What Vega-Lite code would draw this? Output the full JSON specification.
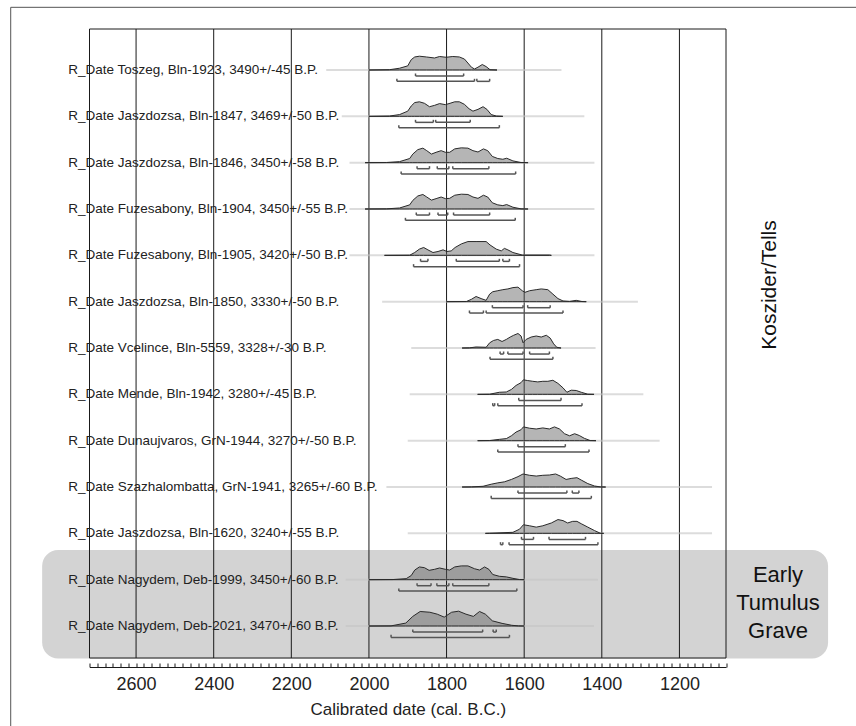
{
  "$schema": "https://vega.github.io/schema/vega-lite/v6.json",
  "width": 636.5,
  "height": 629,
  "autosize": {"type": "none"},
  "padding": {"left": 89.5, "top": 29, "right": 130, "bottom": 68},
  "background": "white",
  "config": {"view": {"stroke": null}, "font": "Liberation Sans"},
  "params": [],
  "datasets": {
    "rows": [
      {"i": 1, "label": "R_Date Toszeg, Bln-1923, 3490+/-45 B.P.", "f1": 2110, "f2": 1504},
      {"i": 2, "label": "R_Date Jaszdozsa, Bln-1847, 3469+/-50 B.P.", "f1": 2070, "f2": 1445},
      {"i": 3, "label": "R_Date Jaszdozsa, Bln-1846, 3450+/-58 B.P.", "f1": 2050, "f2": 1419},
      {"i": 4, "label": "R_Date Fuzesabony, Bln-1904, 3450+/-55 B.P.", "f1": 2050, "f2": 1419},
      {"i": 5, "label": "R_Date Fuzesabony, Bln-1905, 3420+/-50 B.P.", "f1": 2050, "f2": 1419},
      {"i": 6, "label": "R_Date Jaszdozsa, Bln-1850, 3330+/-50 B.P.", "f1": 1966, "f2": 1307},
      {"i": 7, "label": "R_Date Vcelince, Bln-5559, 3328+/-30 B.P.", "f1": 1891, "f2": 1416},
      {"i": 8, "label": "R_Date Mende, Bln-1942, 3280+/-45 B.P.", "f1": 1895, "f2": 1293},
      {"i": 9, "label": "R_Date Dunaujvaros, GrN-1944, 3270+/-50 B.P.", "f1": 1900, "f2": 1251},
      {"i": 10, "label": "R_Date Szazhalombatta, GrN-1941, 3265+/-60 B.P.", "f1": 1955, "f2": 1116},
      {"i": 11, "label": "R_Date Jaszdozsa, Bln-1620, 3240+/-55 B.P.", "f1": 1900, "f2": 1116},
      {"i": 12, "label": "R_Date Nagydem, Deb-1999, 3450+/-60 B.P.", "f1": 2060, "f2": 1410},
      {"i": 13, "label": "R_Date Nagydem, Deb-2021, 3470+/-60 B.P.", "f1": 2060, "f2": 1420}
    ],
    "dist": [
      {"i":1,"d":2000,"p":0},{"i":1,"d":1947,"p":0.02},{"i":1,"d":1921,"p":0.12},{"i":1,"d":1900,"p":0.28},{"i":1,"d":1891,"p":0.7},{"i":1,"d":1882,"p":0.88},{"i":1,"d":1870,"p":0.93},{"i":1,"d":1852,"p":0.88},{"i":1,"d":1831,"p":0.81},{"i":1,"d":1818,"p":0.91},{"i":1,"d":1801,"p":0.86},{"i":1,"d":1784,"p":0.91},{"i":1,"d":1767,"p":0.88},{"i":1,"d":1754,"p":0.74},{"i":1,"d":1745,"p":0.47},{"i":1,"d":1736,"p":0.19},{"i":1,"d":1728,"p":0.07},{"i":1,"d":1719,"p":0.19},{"i":1,"d":1708,"p":0.37},{"i":1,"d":1698,"p":0.23},{"i":1,"d":1688,"p":0.02},{"i":1,"d":1670,"p":0},
      {"i":2,"d":2000,"p":0},{"i":2,"d":1947,"p":0.02},{"i":2,"d":1921,"p":0.12},{"i":2,"d":1900,"p":0.35},{"i":2,"d":1891,"p":0.7},{"i":2,"d":1882,"p":0.93},{"i":2,"d":1870,"p":0.98},{"i":2,"d":1857,"p":0.88},{"i":2,"d":1844,"p":0.65},{"i":2,"d":1831,"p":0.74},{"i":2,"d":1818,"p":0.86},{"i":2,"d":1803,"p":0.79},{"i":2,"d":1791,"p":0.88},{"i":2,"d":1779,"p":0.98},{"i":2,"d":1767,"p":0.98},{"i":2,"d":1754,"p":0.81},{"i":2,"d":1742,"p":0.51},{"i":2,"d":1732,"p":0.35},{"i":2,"d":1719,"p":0.47},{"i":2,"d":1706,"p":0.65},{"i":2,"d":1696,"p":0.47},{"i":2,"d":1685,"p":0.12},{"i":2,"d":1672,"p":0.02},{"i":2,"d":1655,"p":0},
      {"i":3,"d":2010,"p":0},{"i":3,"d":1955,"p":0.01},{"i":3,"d":1921,"p":0.07},{"i":3,"d":1895,"p":0.28},{"i":3,"d":1887,"p":0.58},{"i":3,"d":1874,"p":0.88},{"i":3,"d":1861,"p":0.98},{"i":3,"d":1851,"p":0.81},{"i":3,"d":1839,"p":0.58},{"i":3,"d":1827,"p":0.7},{"i":3,"d":1814,"p":0.81},{"i":3,"d":1803,"p":0.7},{"i":3,"d":1792,"p":0.7},{"i":3,"d":1779,"p":0.93},{"i":3,"d":1762,"p":1.0},{"i":3,"d":1745,"p":0.98},{"i":3,"d":1732,"p":0.81},{"i":3,"d":1719,"p":0.72},{"i":3,"d":1705,"p":0.93},{"i":3,"d":1694,"p":0.81},{"i":3,"d":1682,"p":0.42},{"i":3,"d":1668,"p":0.28},{"i":3,"d":1655,"p":0.23},{"i":3,"d":1645,"p":0.3},{"i":3,"d":1629,"p":0.12},{"i":3,"d":1608,"p":0.01},{"i":3,"d":1590,"p":0},
      {"i":4,"d":2010,"p":0},{"i":4,"d":1955,"p":0.01},{"i":4,"d":1921,"p":0.07},{"i":4,"d":1895,"p":0.28},{"i":4,"d":1887,"p":0.58},{"i":4,"d":1874,"p":0.88},{"i":4,"d":1861,"p":0.98},{"i":4,"d":1851,"p":0.81},{"i":4,"d":1839,"p":0.6},{"i":4,"d":1827,"p":0.7},{"i":4,"d":1814,"p":0.81},{"i":4,"d":1803,"p":0.7},{"i":4,"d":1792,"p":0.72},{"i":4,"d":1779,"p":0.93},{"i":4,"d":1762,"p":1.0},{"i":4,"d":1745,"p":0.98},{"i":4,"d":1732,"p":0.81},{"i":4,"d":1719,"p":0.72},{"i":4,"d":1705,"p":0.93},{"i":4,"d":1694,"p":0.81},{"i":4,"d":1682,"p":0.42},{"i":4,"d":1668,"p":0.28},{"i":4,"d":1655,"p":0.23},{"i":4,"d":1645,"p":0.3},{"i":4,"d":1629,"p":0.12},{"i":4,"d":1608,"p":0.01},{"i":4,"d":1590,"p":0},
      {"i":5,"d":1960,"p":0},{"i":5,"d":1895,"p":0.01},{"i":5,"d":1882,"p":0.19},{"i":5,"d":1870,"p":0.42},{"i":5,"d":1859,"p":0.53},{"i":5,"d":1848,"p":0.37},{"i":5,"d":1835,"p":0.19},{"i":5,"d":1822,"p":0.26},{"i":5,"d":1809,"p":0.37},{"i":5,"d":1799,"p":0.26},{"i":5,"d":1788,"p":0.3},{"i":5,"d":1778,"p":0.53},{"i":5,"d":1762,"p":0.77},{"i":5,"d":1745,"p":0.93},{"i":5,"d":1724,"p":0.93},{"i":5,"d":1698,"p":0.93},{"i":5,"d":1688,"p":0.7},{"i":5,"d":1672,"p":0.42},{"i":5,"d":1659,"p":0.3},{"i":5,"d":1651,"p":0.47},{"i":5,"d":1642,"p":0.37},{"i":5,"d":1629,"p":0.19},{"i":5,"d":1605,"p":0.02},{"i":5,"d":1535,"p":0.02},{"i":5,"d":1530,"p":0},
      {"i":6,"d":1800,"p":0},{"i":6,"d":1749,"p":0.01},{"i":6,"d":1736,"p":0.16},{"i":6,"d":1724,"p":0.35},{"i":6,"d":1711,"p":0.21},{"i":6,"d":1698,"p":0.09},{"i":6,"d":1689,"p":0.51},{"i":6,"d":1681,"p":0.67},{"i":6,"d":1668,"p":0.74},{"i":6,"d":1655,"p":0.81},{"i":6,"d":1642,"p":0.86},{"i":6,"d":1629,"p":0.95},{"i":6,"d":1616,"p":0.98},{"i":6,"d":1605,"p":0.74},{"i":6,"d":1598,"p":0.63},{"i":6,"d":1586,"p":0.74},{"i":6,"d":1569,"p":0.81},{"i":6,"d":1556,"p":0.86},{"i":6,"d":1539,"p":0.81},{"i":6,"d":1526,"p":0.51},{"i":6,"d":1513,"p":0.21},{"i":6,"d":1500,"p":0.05},{"i":6,"d":1483,"p":0.02},{"i":6,"d":1466,"p":0.09},{"i":6,"d":1451,"p":0.01},{"i":6,"d":1440,"p":0},
      {"i":7,"d":1760,"p":0},{"i":7,"d":1741,"p":0.01},{"i":7,"d":1724,"p":0.07},{"i":7,"d":1698,"p":0.05},{"i":7,"d":1689,"p":0.35},{"i":7,"d":1679,"p":0.51},{"i":7,"d":1668,"p":0.58},{"i":7,"d":1657,"p":0.44},{"i":7,"d":1646,"p":0.58},{"i":7,"d":1636,"p":0.74},{"i":7,"d":1627,"p":0.86},{"i":7,"d":1616,"p":0.98},{"i":7,"d":1608,"p":0.81},{"i":7,"d":1603,"p":0.35},{"i":7,"d":1595,"p":0.58},{"i":7,"d":1582,"p":0.74},{"i":7,"d":1569,"p":0.81},{"i":7,"d":1556,"p":0.74},{"i":7,"d":1543,"p":0.86},{"i":7,"d":1533,"p":0.67},{"i":7,"d":1524,"p":0.28},{"i":7,"d":1516,"p":0.05},{"i":7,"d":1505,"p":0},
      {"i":8,"d":1720,"p":0},{"i":8,"d":1689,"p":0.01},{"i":8,"d":1664,"p":0.14},{"i":8,"d":1646,"p":0.16},{"i":8,"d":1633,"p":0.33},{"i":8,"d":1621,"p":0.6},{"i":8,"d":1608,"p":0.79},{"i":8,"d":1602,"p":0.98},{"i":8,"d":1591,"p":0.93},{"i":8,"d":1578,"p":0.88},{"i":8,"d":1565,"p":0.84},{"i":8,"d":1552,"p":0.88},{"i":8,"d":1539,"p":0.88},{"i":8,"d":1526,"p":0.95},{"i":8,"d":1513,"p":0.74},{"i":8,"d":1500,"p":0.44},{"i":8,"d":1490,"p":0.14},{"i":8,"d":1479,"p":0.28},{"i":8,"d":1466,"p":0.26},{"i":8,"d":1453,"p":0.14},{"i":8,"d":1436,"p":0.01},{"i":8,"d":1420,"p":0},
      {"i":9,"d":1720,"p":0},{"i":9,"d":1689,"p":0.01},{"i":9,"d":1664,"p":0.09},{"i":9,"d":1646,"p":0.14},{"i":9,"d":1633,"p":0.33},{"i":9,"d":1621,"p":0.58},{"i":9,"d":1608,"p":0.74},{"i":9,"d":1602,"p":0.93},{"i":9,"d":1586,"p":0.84},{"i":9,"d":1569,"p":0.79},{"i":9,"d":1552,"p":0.86},{"i":9,"d":1535,"p":0.79},{"i":9,"d":1522,"p":0.93},{"i":9,"d":1509,"p":0.79},{"i":9,"d":1496,"p":0.47},{"i":9,"d":1483,"p":0.33},{"i":9,"d":1470,"p":0.47},{"i":9,"d":1458,"p":0.35},{"i":9,"d":1445,"p":0.16},{"i":9,"d":1430,"p":0.01},{"i":9,"d":1415,"p":0},
      {"i":10,"d":1760,"p":0},{"i":10,"d":1736,"p":0.01},{"i":10,"d":1706,"p":0.05},{"i":10,"d":1685,"p":0.19},{"i":10,"d":1668,"p":0.28},{"i":10,"d":1651,"p":0.35},{"i":10,"d":1633,"p":0.51},{"i":10,"d":1616,"p":0.7},{"i":10,"d":1603,"p":0.88},{"i":10,"d":1586,"p":0.79},{"i":10,"d":1569,"p":0.74},{"i":10,"d":1552,"p":0.79},{"i":10,"d":1535,"p":0.81},{"i":10,"d":1519,"p":0.88},{"i":10,"d":1507,"p":0.74},{"i":10,"d":1492,"p":0.51},{"i":10,"d":1479,"p":0.58},{"i":10,"d":1464,"p":0.63},{"i":10,"d":1453,"p":0.47},{"i":10,"d":1436,"p":0.23},{"i":10,"d":1419,"p":0.07},{"i":10,"d":1404,"p":0.01},{"i":10,"d":1390,"p":0},
      {"i":11,"d":1700,"p":0},{"i":11,"d":1689,"p":0.01},{"i":11,"d":1629,"p":0.07},{"i":11,"d":1612,"p":0.28},{"i":11,"d":1602,"p":0.58},{"i":11,"d":1586,"p":0.51},{"i":11,"d":1569,"p":0.42},{"i":11,"d":1552,"p":0.51},{"i":11,"d":1530,"p":0.7},{"i":11,"d":1513,"p":0.93},{"i":11,"d":1500,"p":0.86},{"i":11,"d":1488,"p":0.7},{"i":11,"d":1475,"p":0.81},{"i":11,"d":1464,"p":0.81},{"i":11,"d":1453,"p":0.65},{"i":11,"d":1436,"p":0.42},{"i":11,"d":1419,"p":0.19},{"i":11,"d":1404,"p":0.01},{"i":11,"d":1395,"p":0},
      {"i":12,"d":2000,"p":0},{"i":12,"d":1938,"p":0.01},{"i":12,"d":1904,"p":0.07},{"i":12,"d":1891,"p":0.28},{"i":12,"d":1882,"p":0.65},{"i":12,"d":1870,"p":0.86},{"i":12,"d":1857,"p":0.81},{"i":12,"d":1845,"p":0.63},{"i":12,"d":1831,"p":0.7},{"i":12,"d":1818,"p":0.79},{"i":12,"d":1803,"p":0.7},{"i":12,"d":1792,"p":0.65},{"i":12,"d":1779,"p":0.86},{"i":12,"d":1762,"p":0.93},{"i":12,"d":1745,"p":0.93},{"i":12,"d":1728,"p":0.74},{"i":12,"d":1715,"p":0.65},{"i":12,"d":1702,"p":0.86},{"i":12,"d":1691,"p":0.7},{"i":12,"d":1681,"p":0.35},{"i":12,"d":1664,"p":0.23},{"i":12,"d":1646,"p":0.19},{"i":12,"d":1629,"p":0.09},{"i":12,"d":1612,"p":0.01},{"i":12,"d":1600,"p":0},
      {"i":13,"d":2000,"p":0},{"i":13,"d":1943,"p":0.01},{"i":13,"d":1905,"p":0.2},{"i":13,"d":1887,"p":0.65},{"i":13,"d":1868,"p":0.98},{"i":13,"d":1843,"p":0.93},{"i":13,"d":1824,"p":0.8},{"i":13,"d":1806,"p":0.6},{"i":13,"d":1787,"p":0.93},{"i":13,"d":1769,"p":1.0},{"i":13,"d":1750,"p":0.8},{"i":13,"d":1731,"p":0.65},{"i":13,"d":1715,"p":0.98},{"i":13,"d":1700,"p":0.8},{"i":13,"d":1682,"p":0.35},{"i":13,"d":1657,"p":0.18},{"i":13,"d":1632,"p":0.05},{"i":13,"d":1615,"p":0.01},{"i":13,"d":1600,"p":0}
    ],
    "ranges": [
      {"i":1,"lvl":68,"a":1880,"b":1756},{"i":1,"lvl":95,"a":1928,"b":1728},{"i":1,"lvl":95,"a":1722,"b":1689},
      {"i":2,"lvl":68,"a":1880,"b":1834},{"i":2,"lvl":68,"a":1828,"b":1739},{"i":2,"lvl":95,"a":1923,"b":1664},
      {"i":3,"lvl":68,"a":1876,"b":1844},{"i":3,"lvl":68,"a":1824,"b":1794},{"i":3,"lvl":68,"a":1784,"b":1691},{"i":3,"lvl":95,"a":1917,"b":1622},
      {"i":4,"lvl":68,"a":1878,"b":1844},{"i":4,"lvl":68,"a":1822,"b":1797},{"i":4,"lvl":68,"a":1782,"b":1689},{"i":4,"lvl":95,"a":1906,"b":1623},
      {"i":5,"lvl":68,"a":1867,"b":1848},{"i":5,"lvl":68,"a":1775,"b":1664},{"i":5,"lvl":68,"a":1655,"b":1638},{"i":5,"lvl":95,"a":1885,"b":1612},
      {"i":6,"lvl":68,"a":1682,"b":1603},{"i":6,"lvl":68,"a":1591,"b":1533},{"i":6,"lvl":95,"a":1741,"b":1705},{"i":6,"lvl":95,"a":1698,"b":1500},
      {"i":7,"lvl":68,"a":1662,"b":1653},{"i":7,"lvl":68,"a":1642,"b":1603},{"i":7,"lvl":68,"a":1586,"b":1535},{"i":7,"lvl":95,"a":1688,"b":1526},
      {"i":8,"lvl":68,"a":1614,"b":1505},{"i":8,"lvl":95,"a":1681,"b":1676},{"i":8,"lvl":95,"a":1668,"b":1451},
      {"i":9,"lvl":68,"a":1616,"b":1494},{"i":9,"lvl":95,"a":1668,"b":1433},
      {"i":10,"lvl":68,"a":1616,"b":1490},{"i":10,"lvl":68,"a":1476,"b":1459},{"i":10,"lvl":95,"a":1685,"b":1427},
      {"i":11,"lvl":68,"a":1607,"b":1576},{"i":11,"lvl":68,"a":1536,"b":1442},{"i":11,"lvl":95,"a":1661,"b":1655},{"i":11,"lvl":95,"a":1639,"b":1410},
      {"i":12,"lvl":68,"a":1876,"b":1840},{"i":12,"lvl":68,"a":1825,"b":1794},{"i":12,"lvl":68,"a":1784,"b":1691},{"i":12,"lvl":95,"a":1923,"b":1619},
      {"i":13,"lvl":68,"a":1887,"b":1707},{"i":13,"lvl":68,"a":1680,"b":1672},{"i":13,"lvl":95,"a":1943,"b":1638}
    ],
    "grid": [{"g":2720},{"g":2600},{"g":2400},{"g":2200},{"g":2000},{"g":1800},{"g":1600},{"g":1400},{"g":1200},{"g":1080}],
    "hborder": [{"b":0.115},{"b":13.69}]
  },
  "layer": [
    {
      "data": {"values": [{"k": "frame"}]},
      "mark": {"type": "rect", "fillOpacity": 0, "stroke": "#555", "strokeWidth": 1},
      "encoding": {
        "x": {"datum": 2923, "type": "quantitative", "scale": {"domain": [1080, 2720], "reverse": true, "nice": false, "zero": false},
          "axis": {"title": "Calibrated date (cal. B.C.)", "values": [1080,1100,1120,1140,1160,1180,1200,1220,1240,1260,1280,1300,1320,1340,1360,1380,1400,1420,1440,1460,1480,1500,1520,1540,1560,1580,1600,1620,1640,1660,1680,1700,1720,1740,1760,1780,1800,1820,1840,1860,1880,1900,1920,1940,1960,1980,2000,2020,2040,2060,2080,2100,2120,2140,2160,2180,2200,2220,2240,2260,2280,2300,2320,2340,2360,2380,2400,2420,2440,2460,2480,2500,2520,2540,2560,2580,2600,2620,2640,2660,2680,2700,2720], "format": "d", "labelExpr": "datum.value % 200 === 0 ? datum.label : ''", "labelOverlap": false, "labelFlush": false, "grid": false, "offset": 9, "tickSize": -4, "tickColor": "#1a1a1a", "tickWidth": 1, "domainColor": "#1a1a1a", "domainWidth": 1, "labelFont": "Liberation Sans", "labelFontSize": 18, "labelColor": "#222", "labelPadding": 12, "titleFont": "Liberation Sans", "titleFontSize": 17, "titleFontWeight": "normal", "titleColor": "#222", "titlePadding": 8}},
        "x2": {"datum": 500},
        "y": {"datum": -0.353, "type": "quantitative", "scale": {"domain": [0.115, 13.69], "reverse": true, "nice": false, "zero": false}, "axis": null},
        "y2": {"datum": 18}
      }
    },
    {
      "data": {"values": [{"k": "Early Tumulus Grave"}]},
      "mark": {"type": "rect", "fill": "#d3d3d3", "cornerRadius": 16},
      "encoding": {
        "x": {"datum": 2842, "type": "quantitative", "scale": {"domain": [1080, 2720], "reverse": true, "nice": false, "zero": false},
          "axis": {"title": "Calibrated date (cal. B.C.)", "values": [1080,1100,1120,1140,1160,1180,1200,1220,1240,1260,1280,1300,1320,1340,1360,1380,1400,1420,1440,1460,1480,1500,1520,1540,1560,1580,1600,1620,1640,1660,1680,1700,1720,1740,1760,1780,1800,1820,1840,1860,1880,1900,1920,1940,1960,1980,2000,2020,2040,2060,2080,2100,2120,2140,2160,2180,2200,2220,2240,2260,2280,2300,2320,2340,2360,2380,2400,2420,2440,2460,2480,2500,2520,2540,2560,2580,2600,2620,2640,2660,2680,2700,2720], "format": "d", "labelExpr": "datum.value % 200 === 0 ? datum.label : ''", "labelOverlap": false, "labelFlush": false, "grid": false, "offset": 9, "tickSize": -4, "tickColor": "#1a1a1a", "tickWidth": 1, "domainColor": "#1a1a1a", "domainWidth": 1, "labelFont": "Liberation Sans", "labelFontSize": 18, "labelColor": "#222", "labelPadding": 12, "titleFont": "Liberation Sans", "titleFontSize": 17, "titleFontWeight": "normal", "titleColor": "#222", "titlePadding": 8}},
        "x2": {"datum": 817},
        "y": {"datum": 11.36, "type": "quantitative", "scale": {"domain": [0.115, 13.69], "reverse": true, "nice": false, "zero": false}, "axis": null},
        "y2": {"datum": 13.70}
      }
    },
    {
      "data": {"name": "grid"},
      "mark": {"type": "rule", "color": "#1a1a1a", "strokeWidth": 1},
      "encoding": {
        "x": {"field": "g", "type": "quantitative", "scale": {"domain": [1080, 2720], "reverse": true, "nice": false, "zero": false},
          "axis": {"title": "Calibrated date (cal. B.C.)", "values": [1080,1100,1120,1140,1160,1180,1200,1220,1240,1260,1280,1300,1320,1340,1360,1380,1400,1420,1440,1460,1480,1500,1520,1540,1560,1580,1600,1620,1640,1660,1680,1700,1720,1740,1760,1780,1800,1820,1840,1860,1880,1900,1920,1940,1960,1980,2000,2020,2040,2060,2080,2100,2120,2140,2160,2180,2200,2220,2240,2260,2280,2300,2320,2340,2360,2380,2400,2420,2440,2460,2480,2500,2520,2540,2560,2580,2600,2620,2640,2660,2680,2700,2720], "format": "d", "labelExpr": "datum.value % 200 === 0 ? datum.label : ''", "labelOverlap": false, "labelFlush": false, "grid": false, "offset": 9, "tickSize": -4, "tickColor": "#1a1a1a", "tickWidth": 1, "domainColor": "#1a1a1a", "domainWidth": 1, "labelFont": "Liberation Sans", "labelFontSize": 18, "labelColor": "#222", "labelPadding": 12, "titleFont": "Liberation Sans", "titleFontSize": 17, "titleFontWeight": "normal", "titleColor": "#222", "titlePadding": 8}}
      }
    },
    {
      "data": {"name": "hborder"},
      "mark": {"type": "rule", "color": "#1a1a1a", "strokeWidth": 1},
      "encoding": {
        "y": {"field": "b", "type": "quantitative", "scale": {"domain": [0.115, 13.69], "reverse": true, "nice": false, "zero": false}, "axis": null}
      }
    },
    {
      "data": {"name": "rows"},
      "mark": {"type": "rule", "color": "#c4c4c4", "opacity": 0.6, "strokeWidth": 2},
      "encoding": {
        "x": {"field": "f1", "type": "quantitative", "scale": {"domain": [1080, 2720], "reverse": true, "nice": false, "zero": false},
          "axis": {"title": "Calibrated date (cal. B.C.)", "values": [1080,1100,1120,1140,1160,1180,1200,1220,1240,1260,1280,1300,1320,1340,1360,1380,1400,1420,1440,1460,1480,1500,1520,1540,1560,1580,1600,1620,1640,1660,1680,1700,1720,1740,1760,1780,1800,1820,1840,1860,1880,1900,1920,1940,1960,1980,2000,2020,2040,2060,2080,2100,2120,2140,2160,2180,2200,2220,2240,2260,2280,2300,2320,2340,2360,2380,2400,2420,2440,2460,2480,2500,2520,2540,2560,2580,2600,2620,2640,2660,2680,2700,2720], "format": "d", "labelExpr": "datum.value % 200 === 0 ? datum.label : ''", "labelOverlap": false, "labelFlush": false, "grid": false, "offset": 9, "tickSize": -4, "tickColor": "#1a1a1a", "tickWidth": 1, "domainColor": "#1a1a1a", "domainWidth": 1, "labelFont": "Liberation Sans", "labelFontSize": 18, "labelColor": "#222", "labelPadding": 12, "titleFont": "Liberation Sans", "titleFontSize": 17, "titleFontWeight": "normal", "titleColor": "#222", "titlePadding": 8}},
        "x2": {"field": "f2"},
        "y": {"field": "i", "type": "quantitative", "scale": {"domain": [0.115, 13.69], "reverse": true, "nice": false, "zero": false}, "axis": null}
      }
    },
    {
      "data": {"name": "dist"},
      "transform": [{"calculate": "datum.i - 0.32 * datum.p", "as": "top"}],
      "mark": {"type": "area", "fill": "#5a5a5a", "fillOpacity": 0.45, "stroke": "#2a2a2a", "strokeWidth": 1},
      "encoding": {
        "x": {"field": "d", "type": "quantitative", "scale": {"domain": [1080, 2720], "reverse": true, "nice": false, "zero": false},
          "axis": {"title": "Calibrated date (cal. B.C.)", "values": [1080,1100,1120,1140,1160,1180,1200,1220,1240,1260,1280,1300,1320,1340,1360,1380,1400,1420,1440,1460,1480,1500,1520,1540,1560,1580,1600,1620,1640,1660,1680,1700,1720,1740,1760,1780,1800,1820,1840,1860,1880,1900,1920,1940,1960,1980,2000,2020,2040,2060,2080,2100,2120,2140,2160,2180,2200,2220,2240,2260,2280,2300,2320,2340,2360,2380,2400,2420,2440,2460,2480,2500,2520,2540,2560,2580,2600,2620,2640,2660,2680,2700,2720], "format": "d", "labelExpr": "datum.value % 200 === 0 ? datum.label : ''", "labelOverlap": false, "labelFlush": false, "grid": false, "offset": 9, "tickSize": -4, "tickColor": "#1a1a1a", "tickWidth": 1, "domainColor": "#1a1a1a", "domainWidth": 1, "labelFont": "Liberation Sans", "labelFontSize": 18, "labelColor": "#222", "labelPadding": 12, "titleFont": "Liberation Sans", "titleFontSize": 17, "titleFontWeight": "normal", "titleColor": "#222", "titlePadding": 8}},
        "y": {"field": "top", "type": "quantitative", "scale": {"domain": [0.115, 13.69], "reverse": true, "nice": false, "zero": false}, "axis": null},
        "y2": {"field": "i"},
        "detail": {"field": "i"}
      }
    },
    {
      "data": {"name": "ranges"},
      "transform": [{"calculate": "datum.i + (datum.lvl == 68 ? 0.13 : 0.245)", "as": "yl"}],
      "mark": {"type": "rule", "color": "#555", "strokeWidth": 1.5},
      "encoding": {
        "x": {"field": "a", "type": "quantitative", "scale": {"domain": [1080, 2720], "reverse": true, "nice": false, "zero": false},
          "axis": {"title": "Calibrated date (cal. B.C.)", "values": [1080,1100,1120,1140,1160,1180,1200,1220,1240,1260,1280,1300,1320,1340,1360,1380,1400,1420,1440,1460,1480,1500,1520,1540,1560,1580,1600,1620,1640,1660,1680,1700,1720,1740,1760,1780,1800,1820,1840,1860,1880,1900,1920,1940,1960,1980,2000,2020,2040,2060,2080,2100,2120,2140,2160,2180,2200,2220,2240,2260,2280,2300,2320,2340,2360,2380,2400,2420,2440,2460,2480,2500,2520,2540,2560,2580,2600,2620,2640,2660,2680,2700,2720], "format": "d", "labelExpr": "datum.value % 200 === 0 ? datum.label : ''", "labelOverlap": false, "labelFlush": false, "grid": false, "offset": 9, "tickSize": -4, "tickColor": "#1a1a1a", "tickWidth": 1, "domainColor": "#1a1a1a", "domainWidth": 1, "labelFont": "Liberation Sans", "labelFontSize": 18, "labelColor": "#222", "labelPadding": 12, "titleFont": "Liberation Sans", "titleFontSize": 17, "titleFontWeight": "normal", "titleColor": "#222", "titlePadding": 8}},
        "x2": {"field": "b"},
        "y": {"field": "yl", "type": "quantitative", "scale": {"domain": [0.115, 13.69], "reverse": true, "nice": false, "zero": false}, "axis": null}
      }
    },
    {
      "data": {"name": "ranges"},
      "transform": [
        {"calculate": "datum.i + (datum.lvl == 68 ? 0.13 : 0.245)", "as": "yl"},
        {"calculate": "datum.yl - 0.055", "as": "yt"},
        {"fold": ["a", "b"], "as": ["end", "v"]}
      ],
      "mark": {"type": "rule", "color": "#555", "strokeWidth": 1.5},
      "encoding": {
        "x": {"field": "v", "type": "quantitative", "scale": {"domain": [1080, 2720], "reverse": true, "nice": false, "zero": false},
          "axis": {"title": "Calibrated date (cal. B.C.)", "values": [1080,1100,1120,1140,1160,1180,1200,1220,1240,1260,1280,1300,1320,1340,1360,1380,1400,1420,1440,1460,1480,1500,1520,1540,1560,1580,1600,1620,1640,1660,1680,1700,1720,1740,1760,1780,1800,1820,1840,1860,1880,1900,1920,1940,1960,1980,2000,2020,2040,2060,2080,2100,2120,2140,2160,2180,2200,2220,2240,2260,2280,2300,2320,2340,2360,2380,2400,2420,2440,2460,2480,2500,2520,2540,2560,2580,2600,2620,2640,2660,2680,2700,2720], "format": "d", "labelExpr": "datum.value % 200 === 0 ? datum.label : ''", "labelOverlap": false, "labelFlush": false, "grid": false, "offset": 9, "tickSize": -4, "tickColor": "#1a1a1a", "tickWidth": 1, "domainColor": "#1a1a1a", "domainWidth": 1, "labelFont": "Liberation Sans", "labelFontSize": 18, "labelColor": "#222", "labelPadding": 12, "titleFont": "Liberation Sans", "titleFontSize": 17, "titleFontWeight": "normal", "titleColor": "#222", "titlePadding": 8}},
        "y": {"field": "yl", "type": "quantitative", "scale": {"domain": [0.115, 13.69], "reverse": true, "nice": false, "zero": false}, "axis": null},
        "y2": {"field": "yt"}
      }
    },
    {
      "data": {"name": "rows"},
      "mark": {"type": "text", "align": "left", "baseline": "middle", "font": "Liberation Sans", "fontSize": 13.5, "color": "#222"},
      "encoding": {
        "x": {"datum": 2775, "type": "quantitative", "scale": {"domain": [1080, 2720], "reverse": true, "nice": false, "zero": false},
          "axis": {"title": "Calibrated date (cal. B.C.)", "values": [1080,1100,1120,1140,1160,1180,1200,1220,1240,1260,1280,1300,1320,1340,1360,1380,1400,1420,1440,1460,1480,1500,1520,1540,1560,1580,1600,1620,1640,1660,1680,1700,1720,1740,1760,1780,1800,1820,1840,1860,1880,1900,1920,1940,1960,1980,2000,2020,2040,2060,2080,2100,2120,2140,2160,2180,2200,2220,2240,2260,2280,2300,2320,2340,2360,2380,2400,2420,2440,2460,2480,2500,2520,2540,2560,2580,2600,2620,2640,2660,2680,2700,2720], "format": "d", "labelExpr": "datum.value % 200 === 0 ? datum.label : ''", "labelOverlap": false, "labelFlush": false, "grid": false, "offset": 9, "tickSize": -4, "tickColor": "#1a1a1a", "tickWidth": 1, "domainColor": "#1a1a1a", "domainWidth": 1, "labelFont": "Liberation Sans", "labelFontSize": 18, "labelColor": "#222", "labelPadding": 12, "titleFont": "Liberation Sans", "titleFontSize": 17, "titleFontWeight": "normal", "titleColor": "#222", "titlePadding": 8}},
        "y": {"field": "i", "type": "quantitative", "scale": {"domain": [0.115, 13.69], "reverse": true, "nice": false, "zero": false}, "axis": null},
        "text": {"field": "label"}
      }
    },
    {
      "data": {"values": [{"t": "Koszider/Tells"}]},
      "mark": {"type": "text", "align": "center", "baseline": "middle", "angle": 270, "font": "Liberation Sans", "fontSize": 21, "color": "#111"},
      "encoding": {
        "x": {"datum": 966, "type": "quantitative", "scale": {"domain": [1080, 2720], "reverse": true, "nice": false, "zero": false},
          "axis": {"title": "Calibrated date (cal. B.C.)", "values": [1080,1100,1120,1140,1160,1180,1200,1220,1240,1260,1280,1300,1320,1340,1360,1380,1400,1420,1440,1460,1480,1500,1520,1540,1560,1580,1600,1620,1640,1660,1680,1700,1720,1740,1760,1780,1800,1820,1840,1860,1880,1900,1920,1940,1960,1980,2000,2020,2040,2060,2080,2100,2120,2140,2160,2180,2200,2220,2240,2260,2280,2300,2320,2340,2360,2380,2400,2420,2440,2460,2480,2500,2520,2540,2560,2580,2600,2620,2640,2660,2680,2700,2720], "format": "d", "labelExpr": "datum.value % 200 === 0 ? datum.label : ''", "labelOverlap": false, "labelFlush": false, "grid": false, "offset": 9, "tickSize": -4, "tickColor": "#1a1a1a", "tickWidth": 1, "domainColor": "#1a1a1a", "domainWidth": 1, "labelFont": "Liberation Sans", "labelFontSize": 18, "labelColor": "#222", "labelPadding": 12, "titleFont": "Liberation Sans", "titleFontSize": 17, "titleFontWeight": "normal", "titleColor": "#222", "titlePadding": 8}},
        "y": {"datum": 5.64, "type": "quantitative", "scale": {"domain": [0.115, 13.69], "reverse": true, "nice": false, "zero": false}, "axis": null},
        "text": {"field": "t"}
      }
    },
    {
      "data": {"values": [{"t": "Early Tumulus Grave"}]},
      "mark": {"type": "text", "text": ["Early", "Tumulus", "Grave"], "align": "center", "baseline": "middle", "lineHeight": 28, "font": "Liberation Sans", "fontSize": 22, "color": "#111"},
      "encoding": {
        "x": {"datum": 946, "type": "quantitative", "scale": {"domain": [1080, 2720], "reverse": true, "nice": false, "zero": false},
          "axis": {"title": "Calibrated date (cal. B.C.)", "values": [1080,1100,1120,1140,1160,1180,1200,1220,1240,1260,1280,1300,1320,1340,1360,1380,1400,1420,1440,1460,1480,1500,1520,1540,1560,1580,1600,1620,1640,1660,1680,1700,1720,1740,1760,1780,1800,1820,1840,1860,1880,1900,1920,1940,1960,1980,2000,2020,2040,2060,2080,2100,2120,2140,2160,2180,2200,2220,2240,2260,2280,2300,2320,2340,2360,2380,2400,2420,2440,2460,2480,2500,2520,2540,2560,2580,2600,2620,2640,2660,2680,2700,2720], "format": "d", "labelExpr": "datum.value % 200 === 0 ? datum.label : ''", "labelOverlap": false, "labelFlush": false, "grid": false, "offset": 9, "tickSize": -4, "tickColor": "#1a1a1a", "tickWidth": 1, "domainColor": "#1a1a1a", "domainWidth": 1, "labelFont": "Liberation Sans", "labelFontSize": 18, "labelColor": "#222", "labelPadding": 12, "titleFont": "Liberation Sans", "titleFontSize": 17, "titleFontWeight": "normal", "titleColor": "#222", "titlePadding": 8}},
        "y": {"datum": 11.90, "type": "quantitative", "scale": {"domain": [0.115, 13.69], "reverse": true, "nice": false, "zero": false}, "axis": null}
      }
    }
  ]
}
